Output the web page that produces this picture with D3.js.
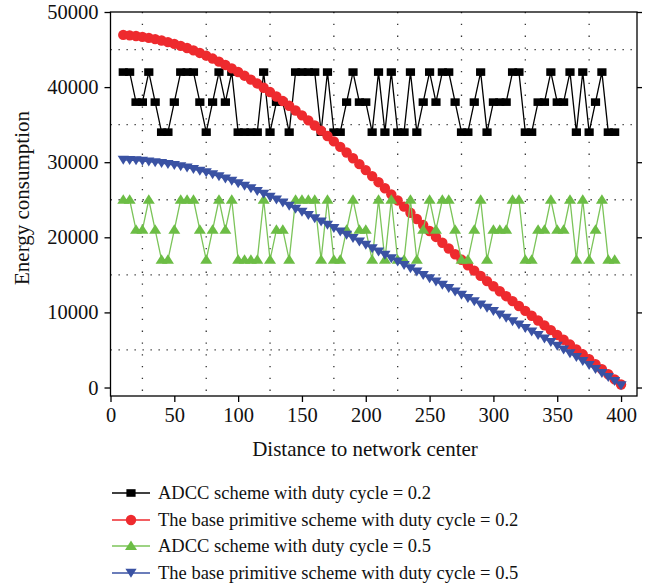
<!DOCTYPE html>
<html><head><meta charset="utf-8">
<script src="https://cdn.jsdelivr.net/npm/d3@7"></script>
<style>body{margin:0;background:#fff}svg{display:block}</style>
</head><body>
<svg id="c" width="661" height="588"></svg>
<script>
// ---- data ----
const xs = [10,15,20,25,30,35,40,45,50,55,60,65,70,75,80,85,90,95,100,105,110,115,120,125,130,135,140,145,150,155,160,165,170,175,180,185,190,195,200,205,210,215,220,225,230,235,240,245,250,255,260,265,270,275,280,285,290,295,300,305,310,315,320,325,330,335,340,345,350,355,360,365,370,375,380,385,390,395,400];
const adcc02 = [42000,42000,38000,38000,42000,38000,34000,34000,38000,42000,
 42000,42000,38000,34000,38000,42000,38000,42000,34000,34000,
 34000,34000,42000,34000,38000,38000,34000,42000,42000,42000,
 42000,34000,42000,34000,34000,38000,42000,38000,38000,34000,
 42000,34000,42000,34000,34000,42000,34000,38000,42000,38000,
 42000,42000,38000,34000,34000,38000,42000,34000,38000,38000,
 38000,42000,42000,34000,34000,38000,38000,42000,38000,38000,
 42000,34000,42000,34000,38000,42000,34000,34000];
const base02 = [46950,46890,46800,46690,46550,46390,46200,45990,45750,45490,
 45200,44890,44550,44190,43800,43390,42950,42490,42010,41520,
 41000,40470,39910,39340,38750,38140,37520,36890,36240,35570,
 34890,34200,33490,32770,32040,31290,30520,29740,28950,28150,
 27340,26530,25720,24910,24090,23260,22440,21630,20840,20050,
 19270,18510,17750,17010,16280,15560,14860,14170,13490,12820,
 12160,11500,10850,10200,9560,8920,8280,7640,7000,6360,
 5720,5070,4420,3760,3100,2430,1760,1080,400];
const adcc05 = [25000,25000,21000,21000,25000,21000,17000,17000,21000,25000,
 25000,25000,21000,17000,21000,25000,21000,25000,17000,17000,
 17000,17000,25000,17000,21000,21000,17000,25000,25000,25000,
 25000,17000,25000,17000,17000,21000,25000,21000,21000,17000,
 25000,17000,25000,17000,17000,25000,17000,21000,25000,21000,
 25000,25000,21000,17000,17000,21000,25000,17000,21000,21000,
 21000,25000,25000,17000,17000,21000,21000,25000,21000,21000,
 25000,17000,25000,17000,21000,25000,17000,17000];
const base05 = [30300,30270,30220,30160,30080,29980,29870,29740,29600,29440,
 29260,29070,28850,28620,28360,28090,27800,27490,27180,26840,
 26500,26140,25780,25390,25000,24600,24190,23780,23360,22940,
 22510,22080,21640,21200,20760,20320,19870,19430,18980,18530,
 18080,17640,17190,16740,16290,15850,15410,14970,14520,14080,
 13650,13210,12770,12330,11900,11460,11020,10590,10150,9700,
 9260,8810,8360,7900,7440,6980,6510,6030,5540,5040,
 4540,4030,3500,2980,2450,1910,1370,830,280];
const xTicks = [0,50,100,150,200,250,300,350,400];
const yTicks = [0,10000,20000,30000,40000,50000];
const xGrid = [25,75,125,175,225,275,325,375];
const yGrid = [5000,15000,25000,35000,45000];
const seriesNames = ["ADCC scheme with duty cycle = 0.2","The base primitive scheme with duty cycle = 0.2","ADCC scheme with duty cycle = 0.5","The base primitive scheme with duty cycle = 0.5"];
const xLabel = "Distance to network center";
const yLabel = "Energy consumption";

// ---- drawing ----
const svg = d3.select("#c");
const L=110.5, R=637, T=12, B=396;
const x = d3.scaleLinear().domain([0,412.5]).range([L,R]);
const y = d3.scaleLinear().domain([-1130,50000]).range([B,T]);
const font = "'Liberation Serif', 'Times New Roman', serif";

const series = [
  {name:seriesNames[0], vals:adcc02, color:"#000000", line:"#000000", marker:"square"},
  {name:seriesNames[1], vals:base02, color:"#ee2a2e", line:"#ee2a2e", marker:"circle"},
  {name:seriesNames[2], vals:adcc05, color:"#6cbd45", line:"#7cc45a", marker:"tri-up"},
  {name:seriesNames[3], vals:base05, color:"#3a52a3", line:"#3a52a3", marker:"tri-down"}
];

// grid
const g = svg.append("g");
g.selectAll(".hg").data(yGrid).enter().append("line")
  .attr("x1",L).attr("x2",R).attr("y1",d=>y(d)).attr("y2",d=>y(d))
  .attr("stroke","#333").attr("stroke-width",1.3).attr("stroke-dasharray","1.3,6.7");
g.selectAll(".vg").data(xGrid).enter().append("line")
  .attr("y1",T).attr("y2",B).attr("x1",d=>x(d)).attr("x2",d=>x(d))
  .attr("stroke","#333").attr("stroke-width",1.3).attr("stroke-dasharray","1.3,10.5");

function drawMarker(sel, type, color){
  if(type==="square"){
    sel.append("rect").attr("x",-4.6).attr("y",-3.8).attr("width",9.2).attr("height",7.6).attr("fill",color);
  } else if(type==="circle"){
    sel.append("circle").attr("r",5.2).attr("fill",color);
  } else if(type==="tri-up"){
    sel.append("path").attr("d","M0,-5.6L6,4L-6,4Z").attr("fill",color);
  } else {
    sel.append("path").attr("d","M0,4.8L5.6,-4.2L-5.6,-4.2Z").attr("fill",color);
  }
}

series.forEach(s=>{
  const pts = s.vals.map((v,i)=>[xs[i],v]);
  svg.append("path").datum(pts)
    .attr("d", d3.line().x(d=>x(d[0])).y(d=>y(d[1])))
    .attr("fill","none").attr("stroke",s.line).attr("stroke-width",1.3);
  const m = svg.append("g").selectAll("g").data(pts).enter().append("g")
    .attr("transform",d=>`translate(${x(d[0])},${y(d[1])})`);
  drawMarker(m, s.marker, s.color);
});

// frame
svg.append("rect").attr("x",L).attr("y",T).attr("width",R-L).attr("height",B-T)
  .attr("fill","none").attr("stroke","#000").attr("stroke-width",1.3);

// axes
const xAxis = svg.append("g").attr("transform",`translate(0,${B})`)
  .call(d3.axisBottom(x).tickValues(xTicks).tickSize(6).tickPadding(5).tickFormat(d3.format("d")));
const yAxis = svg.append("g").attr("transform",`translate(${L},0)`)
  .call(d3.axisLeft(y).tickValues(yTicks).tickSize(6).tickPadding(6).tickFormat(d3.format("d")));
const yAxisR = svg.append("g").attr("transform",`translate(${R},0)`)
  .call(d3.axisRight(y).tickValues(yTicks).tickSize(5).tickFormat(""));
[xAxis,yAxis,yAxisR].forEach(a=>{
  a.select(".domain").remove();
  a.selectAll("line").attr("stroke","#000").attr("stroke-width",1.3);
  a.selectAll("text").attr("font-family",font).attr("font-size",20.5).attr("fill","#111");
});

svg.append("text").attr("x",365).attr("y",456).attr("text-anchor","middle")
  .attr("font-family",font).attr("font-size",21).attr("fill","#111").text(xLabel);
svg.append("text").attr("transform","translate(29,198) rotate(-90)").attr("text-anchor","middle")
  .attr("font-family",font).attr("font-size",21).attr("fill","#111").text(yLabel);

// legend
const legY = [493,520,546,573];
series.forEach((s,i)=>{
  const lg = svg.append("g").attr("transform",`translate(0,${legY[i]})`);
  lg.append("line").attr("x1",112).attr("x2",150).attr("y1",0).attr("y2",0)
    .attr("stroke",s.line).attr("stroke-width",1.3);
  drawMarker(lg.append("g").attr("transform","translate(131,0)"), s.marker, s.color);
  lg.append("text").attr("x",158).attr("y",6).attr("font-family",font).attr("font-size",18.5)
    .attr("fill","#111").text(s.name);
});
</script>
</body></html>
